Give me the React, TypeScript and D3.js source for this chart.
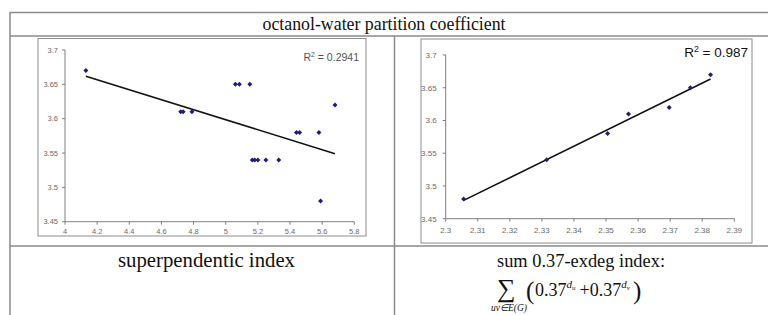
import React from 'react';
import * as d3 from 'd3';

const titleText = 'octanol-water partition coefficient';
const leftLabel = 'superpendentic index';
const rightLabel = 'sum 0.37-exdeg index:';

// superpendentic index vs octanol-water partition coefficient
const leftX = [4.13, 4.72, 4.735, 4.79, 5.06, 5.085, 5.15, 5.165, 5.18, 5.2, 5.25, 5.33, 5.44, 5.46, 5.58, 5.59, 5.68];
const leftY = [3.67, 3.61, 3.61, 3.61, 3.65, 3.65, 3.65, 3.54, 3.54, 3.54, 3.54, 3.54, 3.58, 3.58, 3.58, 3.48, 3.62];
const leftXTicks = [4, 4.2, 4.4, 4.6, 4.8, 5, 5.2, 5.4, 5.6, 5.8];
const leftYTicks = [3.45, 3.5, 3.55, 3.6, 3.65, 3.7];
const leftR2 = '0.2941';

// sum 0.37-exdeg index vs octanol-water partition coefficient
const rightX = [2.3056, 2.3315, 2.3505, 2.357, 2.3697, 2.3763, 2.3826];
const rightY = [3.48, 3.54, 3.58, 3.61, 3.62, 3.65, 3.67];
const rightXTicks = [2.3, 2.31, 2.32, 2.33, 2.34, 2.35, 2.36, 2.37, 2.38, 2.39];
const rightYTicks = [3.45, 3.5, 3.55, 3.6, 3.65, 3.7];
const rightR2 = '0.987';

function regression(xs: number[], ys: number[]) {
  const mx = d3.mean(xs) as number;
  const my = d3.mean(ys) as number;
  let sxy = 0, sxx = 0;
  xs.forEach((x, i) => { sxy += (x - mx) * (ys[i] - my); sxx += (x - mx) * (x - mx); });
  const b = sxy / sxx;
  return (x: number) => my + b * (x - mx);
}

const GRID = '#8a8a8a';
const AXIS = '#7f7f7f';
const LABEL = '#6e6a66';
const MARK = '#1e1e7a';
const SANS = "'Liberation Sans', Arial, sans-serif";
const SERIF = "'Liberation Serif', 'Times New Roman', serif";

type ScatterProps = {
  frame: { x: number; y: number; w: number; h: number };
  xRange: [number, number];
  yRange: [number, number];
  xs: number[];
  ys: number[];
  xTicks: number[];
  yTicks: number[];
  r2: string;
  r2X: number;
  r2Y: number;
  r2Size: number;
  r2Color: string;
  tickFont: number;
  yLabelGap: number;
  xLabelOffset: number;
};

function Scatter(p: ScatterProps) {
  const x = d3.scaleLinear().domain([p.xTicks[0], p.xTicks[p.xTicks.length - 1]]).range(p.xRange);
  const y = d3.scaleLinear().domain([p.yTicks[0], p.yTicks[p.yTicks.length - 1]]).range(p.yRange);
  const fit = regression(p.xs, p.ys);
  const [x0, x1] = d3.extent(p.xs) as [number, number];
  const line = d3.line<number>().x((d) => x(d)).y((d) => y(fit(d)));
  const sym = d3.symbol((d3 as any).symbolDiamond2 || d3.symbolDiamond, 16)();
  const xAxisY = y(p.yTicks[0]);
  const yAxisX = x(p.xTicks[0]);
  return (
    <g>
      <rect x={p.frame.x} y={p.frame.y} width={p.frame.w} height={p.frame.h} fill="#fff" stroke="#8c8c8c" strokeWidth={1} />
      <line x1={yAxisX} x2={yAxisX} y1={y(p.yTicks[p.yTicks.length - 1])} y2={xAxisY} stroke={AXIS} />
      <line x1={yAxisX} x2={x(p.xTicks[p.xTicks.length - 1])} y1={xAxisY} y2={xAxisY} stroke={AXIS} />
      {p.yTicks.map((t) => (
        <g key={'y' + t}>
          <line x1={yAxisX - 3} x2={yAxisX} y1={y(t)} y2={y(t)} stroke={AXIS} />
          <text x={yAxisX - p.yLabelGap} y={y(t)} dy="0.35em" textAnchor="end" fontSize={p.tickFont} fill={LABEL} fontFamily={SANS}>{String(t)}</text>
        </g>
      ))}
      {p.xTicks.map((t) => (
        <g key={'x' + t}>
          <line x1={x(t)} x2={x(t)} y1={xAxisY} y2={xAxisY + 3} stroke={AXIS} />
          <text x={x(t)} y={xAxisY + p.xLabelOffset} textAnchor="middle" fontSize={p.tickFont} fill={LABEL} fontFamily={SANS}>{String(t)}</text>
        </g>
      ))}
      <path d={line([x0, x1]) || ''} fill="none" stroke="#111" strokeWidth={1.5} />
      {p.xs.map((v, i) => (
        <path key={i} d={sym || ''} transform={`translate(${x(v)},${y(p.ys[i])})`} fill={MARK} />
      ))}
      <text x={p.r2X} y={p.r2Y} textAnchor="end" fontSize={p.r2Size} fill={p.r2Color} fontFamily={SANS}>
        R<tspan fontSize={p.r2Size * 0.65} dy={-p.r2Size * 0.38}>2</tspan>
        <tspan dy={p.r2Size * 0.38}>{' = ' + p.r2}</tspan>
      </text>
    </g>
  );
}

export default function App() {
  return (
    <svg width={768} height={315} style={{ position: 'absolute', left: 0, top: 0, background: '#fff' }}>
      <rect x={0} y={0} width={768} height={315} fill="#fff" />
      {/* table */}
      <line x1={10} x2={768} y1={12.5} y2={12.5} stroke={GRID} strokeWidth={1.5} />
      <line x1={10} x2={768} y1={36} y2={36} stroke={GRID} strokeWidth={1.5} />
      <line x1={10} x2={768} y1={246} y2={246} stroke={GRID} strokeWidth={1.5} />
      <line x1={10} x2={10} y1={12} y2={315} stroke={GRID} strokeWidth={1.5} />
      <line x1={394.5} x2={394.5} y1={36} y2={315} stroke={GRID} strokeWidth={1.5} />
      <text x={384} y={30} textAnchor="middle" fontFamily={SERIF} fontSize={19} fill="#111" textLength={243} lengthAdjust="spacingAndGlyphs">{titleText}</text>

      <Scatter
        frame={{ x: 38, y: 38.5, w: 328, h: 197.5 }}
        xRange={[65, 354.3]}
        yRange={[221.7, 50]}
        xs={leftX}
        ys={leftY}
        xTicks={leftXTicks}
        yTicks={leftYTicks}
        r2={leftR2}
        r2X={359}
        r2Y={61}
        r2Size={10.5}
        r2Color="#555"
        tickFont={7.5}
        yLabelGap={7}
        xLabelOffset={12.5}
      />
      <Scatter
        frame={{ x: 421, y: 39, w: 331, h: 204 }}
        xRange={[445.7, 734.3]}
        yRange={[218.7, 55]}
        xs={rightX}
        ys={rightY}
        xTicks={rightXTicks}
        yTicks={rightYTicks}
        r2={rightR2}
        r2X={748}
        r2Y={57}
        r2Size={13.5}
        r2Color="#111"
        tickFont={8}
        yLabelGap={9}
        xLabelOffset={14}
      />

      <text x={118} y={267} fontFamily={SERIF} fontSize={20} fill="#111" textLength={177} lengthAdjust="spacingAndGlyphs">{leftLabel}</text>
      <text x={497} y={267} fontFamily={SERIF} fontSize={19} fill="#111" textLength={168} lengthAdjust="spacingAndGlyphs">{rightLabel}</text>

      {/* formula */}
      <text x={497} y={297} fontFamily={SERIF} fontSize={26} fill="#111">∑</text>
      <text x={509} y={311} textAnchor="middle" fontFamily={SERIF} fontSize={9.5} fontStyle="italic" fill="#111">uv∈E(G)</text>
      <text x={526} y={299} fontFamily={SERIF} fontSize={25} fill="#111">(</text>
      <text x={535} y={296} fontFamily={SERIF} fontSize={18} fill="#111">
        0.37
        <tspan fontSize={11} fontStyle="italic" dy={-8}>d</tspan>
        <tspan fontSize={7} fontStyle="italic" dy={2}>u</tspan>
        <tspan dy={6} dx={4}>+0.37</tspan>
        <tspan fontSize={11} fontStyle="italic" dy={-8}>d</tspan>
        <tspan fontSize={7} fontStyle="italic" dy={2}>v</tspan>
      </text>
      <text x={633} y={299} fontFamily={SERIF} fontSize={25} fill="#111">)</text>
    </svg>
  );
}
